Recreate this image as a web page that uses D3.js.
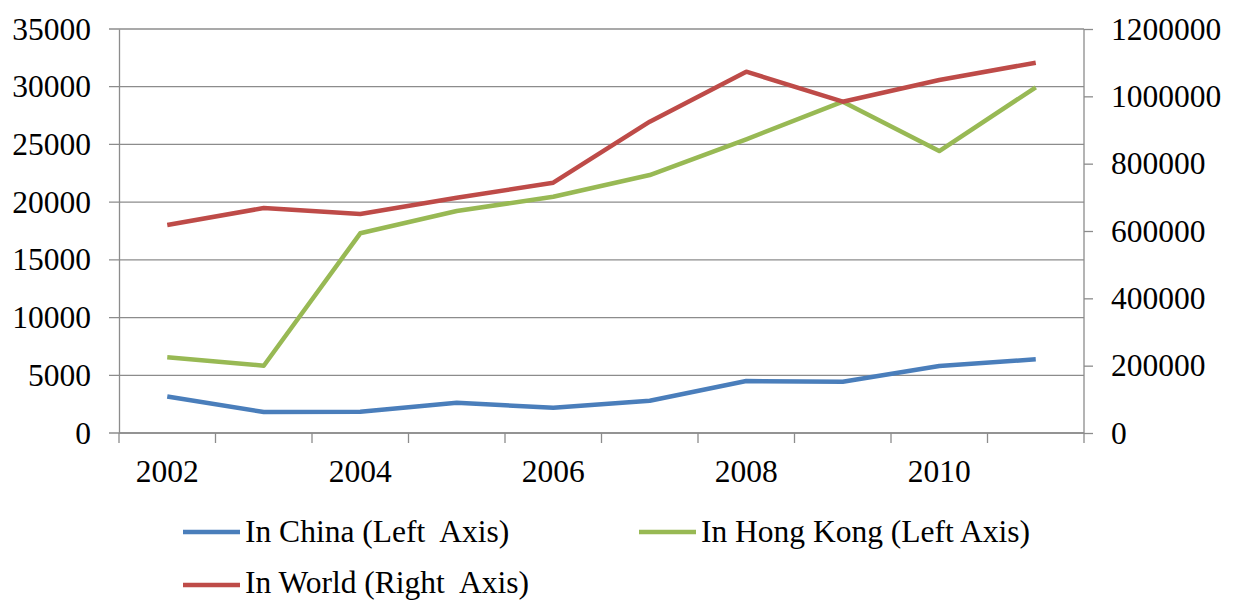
<!DOCTYPE html>
<html><head><meta charset="utf-8">
<script src="https://cdn.jsdelivr.net/npm/d3@7"></script>
<style>
body{margin:0;background:#fff;}
svg text{font-family:"Liberation Serif","Times New Roman",serif !important;fill:#000;}
</style></head>
<body><svg id="c" width="1234" height="600"></svg>
<script>
const years = [2002,2003,2004,2005,2006,2007,2008,2009,2010,2011];
const xLabels = ["2002","","2004","","2006","","2008","","2010",""];
const china = [3160,1820,1850,2620,2190,2800,4500,4440,5800,6390];
const hongKong = [6560,5830,17300,19230,20470,22350,25440,28700,24430,29950];
const world = [617800,668300,650500,698900,743500,924700,1073200,984100,1048500,1099900];
const leftTicks = [0,5000,10000,15000,20000,25000,30000,35000];
const rightTicks = [0,200000,400000,600000,800000,1000000,1200000];
const seriesNames = ["In China (Left  Axis)","In Hong Kong (Left Axis)","In World (Right  Axis)"];
const colors = ["#4a7ebb","#98b954","#be4b48"];

const svg = d3.select("#c");
const L=119, R=1084, T=29, B=433;
const x = d3.scaleBand().domain(years).range([L,R]).padding(0);
const yL = d3.scaleLinear().domain([0,35000]).range([B,T]);
const yR = d3.scaleLinear().domain([0,1200000]).range([B,T]);
const grid="#8c8c8c";
const fs = 31.5;
const serif = '"Liberation Serif","Times New Roman",serif';

// gridlines
svg.append("g").selectAll("line").data(leftTicks).join("line")
  .attr("x1",L-10).attr("x2",R).attr("y1",d=>yL(d)).attr("y2",d=>yL(d))
  .attr("stroke",grid).attr("stroke-width",1.3);

// left axis
const gl = svg.append("g").attr("transform",`translate(${L},0)`)
  .call(d3.axisLeft(yL).tickValues(leftTicks).tickSize(0).tickPadding(28).tickFormat(d=>String(d)));
gl.attr("font-family",serif).attr("font-size",fs);
gl.select(".domain").attr("stroke",grid).attr("stroke-width",1.3);
gl.selectAll("text").style("font-family",serif).style("font-size",fs+"px");

// right axis
const gr = svg.append("g").attr("transform",`translate(${R},0)`)
  .call(d3.axisRight(yR).tickValues(rightTicks).tickSize(9).tickPadding(18).tickFormat(d=>String(d)));
gr.attr("font-family",serif).attr("font-size",fs);
gr.select(".domain").attr("stroke",grid).attr("stroke-width",1.3).attr("d",`M0,${B}V${T}`);
gr.selectAll("line").attr("stroke",grid).attr("stroke-width",1.3);
gr.selectAll("text").style("font-family",serif).style("font-size",fs+"px");

// x axis
const gx = svg.append("g").attr("transform",`translate(0,${B})`)
  .call(d3.axisBottom(x).tickSize(0).tickPadding(27).tickFormat((d,i)=>xLabels[i]));
gx.attr("font-family",serif).attr("font-size",fs);
gx.select(".domain").attr("stroke",grid).attr("stroke-width",1.3).attr("d",`M${L},0H${R}`);
gx.selectAll("text").style("font-family",serif).style("font-size",fs+"px");
const bounds = years.map(d=>x(d)).concat([R]);
svg.append("g").selectAll("line").data(bounds).join("line")
  .attr("x1",d=>d).attr("x2",d=>d).attr("y1",B).attr("y2",B+10)
  .attr("stroke",grid).attr("stroke-width",1.3);

// lines
const cx = d=>x(d)+x.bandwidth()/2;
const lineL = d3.line().x((d,i)=>cx(years[i])).y(d=>yL(d));
const lineR = d3.line().x((d,i)=>cx(years[i])).y(d=>yR(d));
svg.append("path").attr("d",lineL(china)).attr("fill","none").attr("stroke",colors[0]).attr("stroke-width",4.5).attr("stroke-linejoin","round");
svg.append("path").attr("d",lineL(hongKong)).attr("fill","none").attr("stroke",colors[1]).attr("stroke-width",4.5).attr("stroke-linejoin","round");
svg.append("path").attr("d",lineR(world)).attr("fill","none").attr("stroke",colors[2]).attr("stroke-width",4.5).attr("stroke-linejoin","round");

// legend
const leg = [{x:183,y:532,ty:542},{x:639,y:532,ty:542},{x:183,y:585,ty:593}];
leg.forEach((p,i)=>{
  svg.append("line").attr("x1",p.x).attr("x2",p.x+57).attr("y1",p.y).attr("y2",p.y)
    .attr("stroke",colors[i]).attr("stroke-width",4.5);
  svg.append("text").attr("x",p.x+62).attr("y",p.ty)
    .style("font-family",serif).style("font-size",fs+"px")
    .style("white-space","pre").text(seriesNames[i]);
});
</script></body></html>
